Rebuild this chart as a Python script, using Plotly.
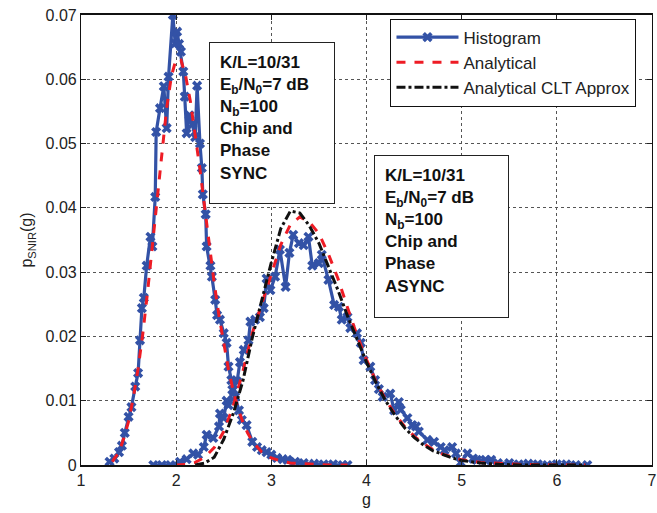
import plotly.graph_objects as go

# ---------------- data ----------------
# Histogram, chip and phase SYNC
sync_hist_g = [1.30, 1.35, 1.40, 1.43, 1.46, 1.50, 1.53, 1.57, 1.60, 1.62, 1.64, 1.66, 1.69, 1.73,
               1.75, 1.78, 1.79, 1.83, 1.87, 1.90, 1.92, 1.965, 1.99, 2.01, 2.03, 2.05, 2.075, 2.09,
               2.11, 2.14, 2.17, 2.20, 2.22, 2.25, 2.27, 2.28, 2.31, 2.32, 2.36, 2.375, 2.41, 2.43,
               2.46, 2.50, 2.53, 2.55, 2.58, 2.60, 2.62, 2.66, 2.69, 2.74, 2.80, 2.85, 2.90, 2.95,
               3.00, 3.06, 3.12, 3.17, 3.25, 3.34, 3.45, 3.55, 3.65, 3.75, 3.80]
sync_hist_p = [0.0005, 0.0010, 0.0020, 0.0030, 0.0050, 0.0075, 0.0090, 0.0122, 0.0143, 0.0194, 0.0244,
               0.0260, 0.0310, 0.0355, 0.0340, 0.0417, 0.0518, 0.0555, 0.0589, 0.0524, 0.0604, 0.0700,
               0.0656, 0.0674, 0.0655, 0.0643, 0.0612, 0.0573, 0.0516, 0.0544, 0.0530, 0.0510, 0.0590,
               0.0500, 0.0462, 0.0421, 0.0390, 0.0340, 0.0310, 0.0293, 0.0257, 0.0233, 0.0226, 0.0205,
               0.0190, 0.0153, 0.0132, 0.0117, 0.0106, 0.0085, 0.0070, 0.0062, 0.0036, 0.0028, 0.0023,
               0.0020, 0.0016, 0.0011, 0.0009, 0.0008, 0.0005, 0.0003, 0.0002, 0.0001, 0.0001, 0.0000,
               0.0000]

# Histogram, chip and phase ASYNC
async_hist_g = [1.76, 1.85, 1.94, 2.04, 2.11, 2.18, 2.23, 2.29, 2.32, 2.39, 2.45, 2.46, 2.50, 2.53,
                2.55, 2.59, 2.64, 2.67, 2.71, 2.76, 2.78, 2.83, 2.88, 2.92, 2.95, 2.99, 3.04, 3.09,
                3.15, 3.19, 3.23, 3.29, 3.34, 3.39, 3.43, 3.50, 3.53, 3.60, 3.66, 3.71, 3.74, 3.80,
                3.83, 3.90, 3.94, 3.97, 4.04, 4.09, 4.13, 4.17, 4.25, 4.29, 4.34, 4.36, 4.43, 4.48,
                4.52, 4.55, 4.64, 4.71, 4.78, 4.82, 4.90, 4.94, 4.99, 5.06, 5.12, 5.16, 5.25, 5.31,
                5.38, 5.50, 5.60, 5.70, 5.80, 5.90, 6.00, 6.10, 6.20, 6.32]
async_hist_p = [0.0000, 0.0000, 0.0000, 0.0005, 0.0009, 0.0018, 0.0016, 0.0028, 0.0047, 0.0042, 0.0060,
                0.0080, 0.0073, 0.0100, 0.0093, 0.0117, 0.0130, 0.0160, 0.0179, 0.0194, 0.0223, 0.0226,
                0.0230, 0.0244, 0.0290, 0.0272, 0.0293, 0.0335, 0.0277, 0.0330, 0.0358, 0.0345, 0.0342,
                0.0355, 0.0310, 0.0314, 0.0327, 0.0288, 0.0249, 0.0246, 0.0226, 0.0230, 0.0213, 0.0205,
                0.0190, 0.0163, 0.0153, 0.0132, 0.0118, 0.0106, 0.0111, 0.0085, 0.0098, 0.0086, 0.0073,
                0.0062, 0.0060, 0.0052, 0.0039, 0.0036, 0.0028, 0.0023, 0.0028, 0.0018, 0.0004, 0.0018,
                0.0010, 0.0008, 0.0008, 0.0008, 0.0003, 0.0003, 0.0001, 0.0002, 0.0001, 0.0000, 0.0001,
                0.0001, 0.0000, 0.0000]

# Analytical, SYNC
sync_an_g = [1.33, 1.35, 1.40, 1.45, 1.50, 1.55, 1.60, 1.65, 1.70, 1.75, 1.80, 1.85, 1.90, 1.95, 2.00,
             2.05, 2.10, 2.15, 2.20, 2.25, 2.30, 2.35, 2.40, 2.45, 2.50, 2.55, 2.60, 2.65, 2.70, 2.75,
             2.80, 2.90, 3.00, 3.10, 3.20, 3.40, 3.60, 3.80]
sync_an_p = [0.0005, 0.0010, 0.0020, 0.0042, 0.0068, 0.0105, 0.0150, 0.0205, 0.0270, 0.0340, 0.0415,
             0.0490, 0.0555, 0.0605, 0.0632, 0.0630, 0.0605, 0.0565, 0.0515, 0.0460, 0.0400, 0.0340,
             0.0283, 0.0232, 0.0187, 0.0148, 0.0115, 0.0088, 0.0067, 0.0050, 0.0037, 0.0020, 0.0011,
             0.0006, 0.0003, 0.0001, 0.0000, 0.0000]

# Analytical, ASYNC
async_an_g = [2.00, 2.10, 2.20, 2.30, 2.40, 2.50, 2.60, 2.70, 2.80, 2.90, 3.00, 3.10, 3.20, 3.30, 3.40,
              3.50, 3.60, 3.70, 3.80, 3.90, 4.00, 4.10, 4.20, 4.30, 4.40, 4.50, 4.60, 4.70, 4.80, 4.90,
              5.00, 5.20, 5.40, 5.60, 6.00, 6.30]
async_an_p = [0.0000, 0.0001, 0.0004, 0.0012, 0.0027, 0.0052, 0.0092, 0.0145, 0.0205, 0.0250, 0.0297,
              0.0343, 0.0374, 0.0386, 0.0378, 0.0360, 0.0328, 0.0290, 0.0245, 0.0202, 0.0164, 0.0130,
              0.0102, 0.0079, 0.0060, 0.0045, 0.0033, 0.0024, 0.0017, 0.0012, 0.0008, 0.0004, 0.0002,
              0.0001, 0.0000, 0.0000]

# Analytical CLT approximation, ASYNC
clt_g = [2.20, 2.30, 2.40, 2.50, 2.60, 2.70, 2.80, 2.90, 3.00, 3.10, 3.20, 3.30, 3.40, 3.50, 3.60,
         3.70, 3.80, 3.90, 4.00, 4.10, 4.20, 4.30, 4.40, 4.50, 4.60, 4.70, 4.80, 4.90, 5.00, 5.20,
         5.40, 5.60, 6.00, 6.30]
clt_p = [0.0000, 0.0003, 0.0012, 0.0040, 0.0080, 0.0130, 0.0198, 0.0258, 0.0315, 0.0368, 0.0395,
         0.0392, 0.0372, 0.0345, 0.0310, 0.0272, 0.0232, 0.0195, 0.0160, 0.0128, 0.0100, 0.0077,
         0.0058, 0.0043, 0.0031, 0.0022, 0.0016, 0.0011, 0.0007, 0.0003, 0.0001, 0.0000, 0.0000,
         0.0000]

x_ticks = [1, 2, 3, 4, 5, 6, 7]
y_ticks = [0, 0.01, 0.02, 0.03, 0.04, 0.05, 0.06, 0.07]
y_tick_text = ["0", "0.01", "0.02", "0.03", "0.04", "0.05", "0.06", "0.07"]

sync_label = "K/L=10/31<br>E<sub>b</sub>/N<sub>0</sub>=7 dB<br>N<sub>b</sub>=100<br>Chip and<br>Phase<br>SYNC"
async_label = "K/L=10/31<br>E<sub>b</sub>/N<sub>0</sub>=7 dB<br>N<sub>b</sub>=100<br>Chip and<br>Phase<br>ASYNC"

# ---------------- styles ----------------
BLUE = "#3352a6"
RED = "#ee1c25"
BLACK = "#111111"
FONT = "Liberation Sans, Arial, sans-serif"

fig = go.Figure()

hist_style = dict(mode="lines+markers", line=dict(color=BLUE, width=3.2),
                  marker=dict(symbol="x", size=9, color=BLUE, line=dict(width=0)))
fig.add_trace(go.Scatter(x=sync_hist_g, y=sync_hist_p, name="Histogram", showlegend=True,
                         legendgroup="h", **hist_style))
fig.add_trace(go.Scatter(x=async_hist_g, y=async_hist_p, name="Histogram", showlegend=False,
                         legendgroup="h", **hist_style))

an_style = dict(mode="lines", line=dict(color=RED, width=3, dash="dash"))
fig.add_trace(go.Scatter(x=sync_an_g, y=sync_an_p, name="Analytical", showlegend=True,
                         legendgroup="a", **an_style))
fig.add_trace(go.Scatter(x=async_an_g, y=async_an_p, name="Analytical", showlegend=False,
                         legendgroup="a", **an_style))

fig.add_trace(go.Scatter(x=clt_g, y=clt_p, name="Analytical CLT Approx", mode="lines",
                         line=dict(color=BLACK, width=3, dash="dashdot")))

ann_font = dict(family=FONT, size=17, color="#111111", weight="bold")
fig.add_annotation(x=2.347, y=0.0658, xref="x", yref="y", xanchor="left", yanchor="top",
                   text=sync_label, showarrow=False, align="left", valign="top",
                   font=ann_font, bordercolor="#222222", borderwidth=1, borderpad=10,
                   bgcolor="white", width=104, height=140)
fig.add_annotation(x=4.074, y=0.0482, xref="x", yref="y", xanchor="left", yanchor="top",
                   text=async_label, showarrow=False, align="left", valign="top",
                   font=ann_font, bordercolor="#222222", borderwidth=1, borderpad=10,
                   bgcolor="white", width=113, height=141)

axis_common = dict(showgrid=True, gridcolor="#555555", griddash="dot", gridwidth=1,
                   ticks="inside", ticklen=5, tickcolor="#222222", automargin=False,
                   ticklabeloverflow="allow",
                   showline=True, linecolor="#111111", mirror="ticks", zeroline=False,
                   tickfont=dict(family=FONT, size=16, color="#222222"))

fig.update_xaxes(range=[1, 7], tickvals=x_ticks, linewidth=2,
                 title=dict(text="g", font=dict(family=FONT, size=16, color="#222222"), standoff=6),
                 **axis_common)
fig.update_yaxes(range=[0, 0.07], tickvals=y_ticks, ticktext=y_tick_text, linewidth=1.2,
                 title=dict(text="p<sub>SNIR</sub>(g)", font=dict(family=FONT, size=16, color="#222222"),
                            standoff=8),
                 **axis_common)

fig.update_layout(
    width=657, height=513,
    margin=dict(l=81, r=5, t=15, b=48),
    plot_bgcolor="white", paper_bgcolor="white",
    font=dict(family=FONT, size=16, color="#222222"),
    legend=dict(x=0.542, y=0.992, xanchor="left", yanchor="top",
                bgcolor="white", bordercolor="#111111", borderwidth=1,
                font=dict(family=FONT, size=17, color="#222222"),
                tracegroupgap=0, itemwidth=62),
    showlegend=True,
)

fig.write_html("out.html")
